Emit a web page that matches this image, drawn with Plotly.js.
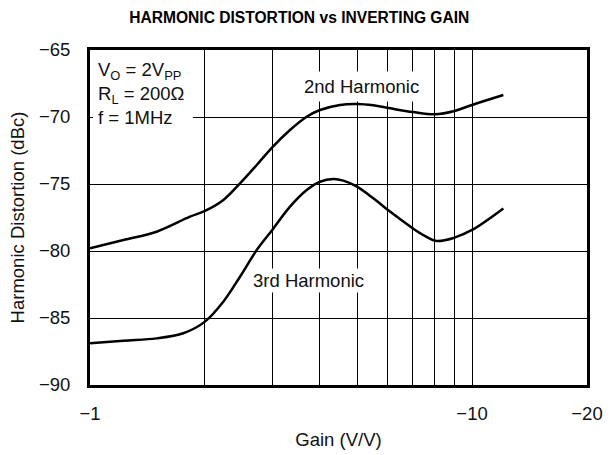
<!DOCTYPE html>
<html><head><meta charset="utf-8">
<script src="https://cdn.plot.ly/plotly-3.0.1.min.js"></script>
<style>html,body{margin:0;padding:0;background:#fff}#c{width:612px;height:455px}</style>
</head><body><div id="c"></div>
<script>
// Gain magnitude (V/V), inverting (labels shown negative)
const gain2 = [1, 1.223, 1.494, 1.827, 2.0, 2.234, 2.47, 2.732, 3.0, 3.339, 3.692, 4.0, 4.512, 5.0, 5.516, 6.1, 7.0, 8.0, 9.0, 10.0, 12.08];
const h2 = [-79.8, -79.18, -78.56, -77.44, -77.01, -76.19, -74.95, -73.58, -72.26, -70.97, -69.98, -69.48, -69.10, -69.03, -69.13, -69.35, -69.63, -69.80, -69.55, -69.10, -68.36];
const gain3 = [1, 1.223, 1.494, 1.755, 2.0, 2.234, 2.47, 2.732, 3.0, 3.339, 3.692, 4.0, 4.335, 4.605, 5.0, 5.516, 6.1, 7.0, 7.46, 8.08, 9.0, 10.0, 12.08];
const h3 = [-86.89, -86.69, -86.52, -86.14, -85.27, -83.78, -81.92, -79.93, -78.43, -76.69, -75.45, -74.83, -74.63, -74.75, -75.2, -76.07, -77.06, -78.31, -78.81, -79.25, -79.0, -78.43, -76.82];
const xGrid = [1, 2, 3, 4, 5, 6, 7, 8, 9, 10, 20];
const xLabels = ['\u22121', '', '', '', '', '', '', '', '', '\u221210', '\u221220'];
const yTicks = [-90, -85, -80, -75, -70, -65];
const yLabels = ['\u221290', '\u221285', '\u221280', '\u221275', '\u221270', '\u221265'];
const conditions = ['V<sub>O</sub> = 2V<sub>PP</sub>', 'R<sub>L</sub> = 200\u03A9', 'f = 1MHz'];

const font = {family: 'Liberation Sans, Arial, sans-serif', size: 18.5, color: '#111'};
const traces = [
  {x: gain2, y: h2, mode: 'lines', line: {color: '#000', width: 2.5, shape: 'spline', smoothing: 1}, hoverinfo: 'skip'},
  {x: gain3, y: h3, mode: 'lines', line: {color: '#000', width: 2.5, shape: 'spline', smoothing: 1}, hoverinfo: 'skip'}
];
const layout = {
  width: 612, height: 455,
  margin: {l: 90, r: 25, t: 50, b: 70},
  paper_bgcolor: '#fff', plot_bgcolor: '#fff',
  showlegend: false,
  font: font,
  title: {text: '<b>HARMONIC DISTORTION vs INVERTING GAIN</b>', font: {family: font.family, size: 15.6, color: '#000'}, x: 0.489, xref: 'container', y: 0.962, yref: 'container', xanchor: 'center', yanchor: 'middle'},
  xaxis: {
    type: 'log', range: [0, Math.log10(20)],
    tickmode: 'array', tickvals: xGrid, ticktext: xLabels,
    showgrid: true, gridcolor: '#000', gridwidth: 1,
    showline: true, linecolor: '#000', linewidth: 3, mirror: true,
    ticks: '', ticklabelstandoff: 10, zeroline: false,
    tickfont: font,
    title: {text: 'Gain (V/V)', font: font, standoff: 10}
  },
  yaxis: {
    range: [-90, -65],
    tickmode: 'array', tickvals: yTicks, ticktext: yLabels,
    showgrid: true, gridcolor: '#000', gridwidth: 1,
    showline: true, linecolor: '#000', linewidth: 3, mirror: true,
    ticks: '', ticklabelstandoff: 13, zeroline: false,
    tickfont: font,
    title: {text: 'Harmonic Distortion (dBc)', font: font, standoff: 10}
  },
  shapes: [
    {type: 'rect', xref: 'paper', yref: 'paper', x0: 0.006, x1: 0.207, y0: 0.76, y1: 0.994, fillcolor: '#fff', line: {width: 0}, layer: 'above'}
  ],
  annotations: [
    {xref: 'paper', yref: 'paper', x: 0.012, y: 0.978, xanchor: 'left', yanchor: 'top', align: 'left', showarrow: false, text: conditions.join('<br>'), font: font},
    {xref: 'x', yref: 'y', x: Math.log10(5.15), y: -67.76, showarrow: false, text: '2nd Harmonic', font: font, bgcolor: '#fff', borderpad: 4},
    {xref: 'x', yref: 'y', x: Math.log10(3.74), y: -82.2, showarrow: false, text: '3rd Harmonic', font: font, bgcolor: '#fff', borderpad: 1}
  ]
};
Plotly.newPlot('c', traces, layout, {staticPlot: true, displayModeBar: false});
</script></body></html>
